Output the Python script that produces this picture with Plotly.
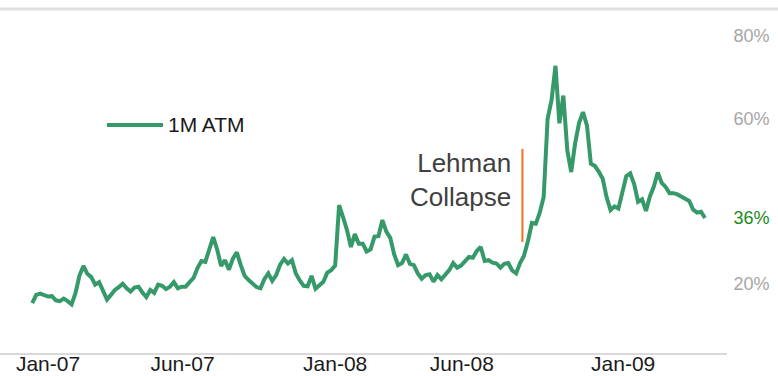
import pandas as pd
import plotly.graph_objects as go

# 1M ATM implied volatility (%), sampled every 5 calendar days
start_date = "2006-12-12"
vol_1m_atm = [
    15.4, 17.4, 17.7, 17.3, 17.0, 17.1, 16.1, 15.9, 16.5, 15.9,
    15.1, 17.9, 22.1, 24.4, 22.5, 21.7, 19.9, 20.5, 18.3, 16.3,
    17.4, 18.6, 19.3, 20.1, 19.0, 18.2, 19.2, 19.4, 18.0, 16.9,
    18.6, 17.9, 19.9, 19.6, 18.8, 19.4, 20.5, 19.0, 19.4, 19.4,
    20.5, 21.5, 23.9, 25.6, 25.4, 28.6, 31.4, 28.4, 24.4, 25.8,
    23.5, 26.2, 27.7, 24.6, 22.0, 21.0, 20.2, 19.3, 19.0, 21.2,
    22.6, 20.8, 22.2, 24.7, 26.1, 25.0, 25.8, 22.6, 20.9, 19.6,
    19.5, 22.0, 18.9, 19.9, 20.6, 22.8, 23.4, 24.5, 39.1, 36.2,
    33.1, 29.0, 32.1, 29.8, 29.8, 27.9, 28.4, 31.5, 31.6, 35.5,
    32.7, 31.2, 27.2, 24.6, 25.1, 27.2, 24.9, 24.6, 22.6, 21.3,
    22.2, 22.4, 20.6, 22.2, 21.2, 22.3, 23.4, 25.1, 24.0, 24.5,
    25.5, 26.6, 26.4, 28.0, 29.0, 25.6, 25.8, 25.2, 25.0, 24.0,
    24.9, 25.1, 23.3, 22.6, 25.1, 26.9, 30.4, 34.8, 34.6, 37.3,
    41.1, 60.0, 64.5, 72.8, 58.9, 65.6, 52.4, 47.1, 54.1, 59.0,
    61.6, 58.4, 49.1, 48.6, 47.2, 45.5, 41.0, 37.9, 38.8, 38.3,
    42.2, 46.1, 46.8, 44.2, 39.9, 40.5, 37.7, 41.2, 43.6, 47.0,
    44.5, 43.5, 42.0, 42.0, 41.7, 41.2, 40.7, 40.1, 38.0, 37.3,
    37.5, 36.0,
]
dates = pd.date_range(start_date, periods=len(vol_1m_atm), freq="5D")

x_tick_dates = ["2007-01-01", "2007-06-21", "2008-01-01", "2008-06-10", "2009-01-01"]
x_tick_labels = ["Jan-07", "Jun-07", "Jan-08", "Jun-08", "Jan-09"]

y_tick_values = [20, 36, 60, 80]
y_tick_labels = ["20%", '<span style="color:#1a8a1a">36%</span>', "60%", "80%"]

lehman_date = "2008-08-26"
lehman_line = [30.2, 52.7]

LINE_GREEN = "#36996a"
SANS = "Liberation Sans, Arial, sans-serif"

fig = go.Figure()
fig.add_trace(go.Scatter(
    x=dates, y=vol_1m_atm, mode="lines", name="1M ATM",
    line=dict(color=LINE_GREEN, width=4), showlegend=False,
))

# Lehman marker line and caption
fig.add_shape(type="line", xref="x", yref="y",
              x0=lehman_date, x1=lehman_date, y0=lehman_line[0], y1=lehman_line[1],
              line=dict(color="#f07020", width=2))
fig.add_annotation(x="2008-08-14", y=45.2, xref="x", yref="y",
                   text="Lehman<br>Collapse", align="right",
                   showarrow=False, xanchor="right", yanchor="middle",
                   font=dict(family=SANS, size=26, color="#404040"))

# Legend swatch and label
fig.add_shape(type="line", xref="paper", yref="paper",
              x0=107 / 727, x1=163 / 727, y0=(353 - 125) / 344, y1=(353 - 125) / 344,
              line=dict(color=LINE_GREEN, width=4))
fig.add_annotation(x=166 / 727, y=(353 - 124) / 344, xref="paper", yref="paper",
                   text="1M ATM", showarrow=False, xanchor="left", yanchor="middle",
                   font=dict(family=SANS, size=21, color="#1a1a1a"))

# Top rule
fig.add_shape(type="line", xref="paper", yref="paper",
              x0=0, x1=778 / 727, y0=1, y1=1,
              line=dict(color="#e0e0e0", width=3))

fig.update_layout(
    width=778, height=376,
    margin=dict(l=0, r=51, t=9, b=23, autoexpand=False),
    paper_bgcolor="white", plot_bgcolor="white",
    xaxis=dict(
        type="date", range=["2006-11-01", "2009-05-13"], automargin=False,
        tickvals=x_tick_dates, ticktext=x_tick_labels,
        showgrid=False, zeroline=False,
        showline=True, linecolor="#d9d9d9", linewidth=2,
        ticks="", ticklen=0, ticklabelstandoff=-9,
        tickfont=dict(family=SANS, size=21, color="#1a1a1a"),
    ),
    yaxis=dict(
        range=[3.36, 86.53], side="right", automargin=False,
        tickvals=y_tick_values, ticktext=y_tick_labels,
        showgrid=False, zeroline=False, showline=False,
        ticks="outside", ticklen=2, tickcolor="rgba(0,0,0,0)",
        tickfont=dict(family=SANS, size=18, color="#a6a6a6"),
    ),
)

fig.write_html("out.html")
